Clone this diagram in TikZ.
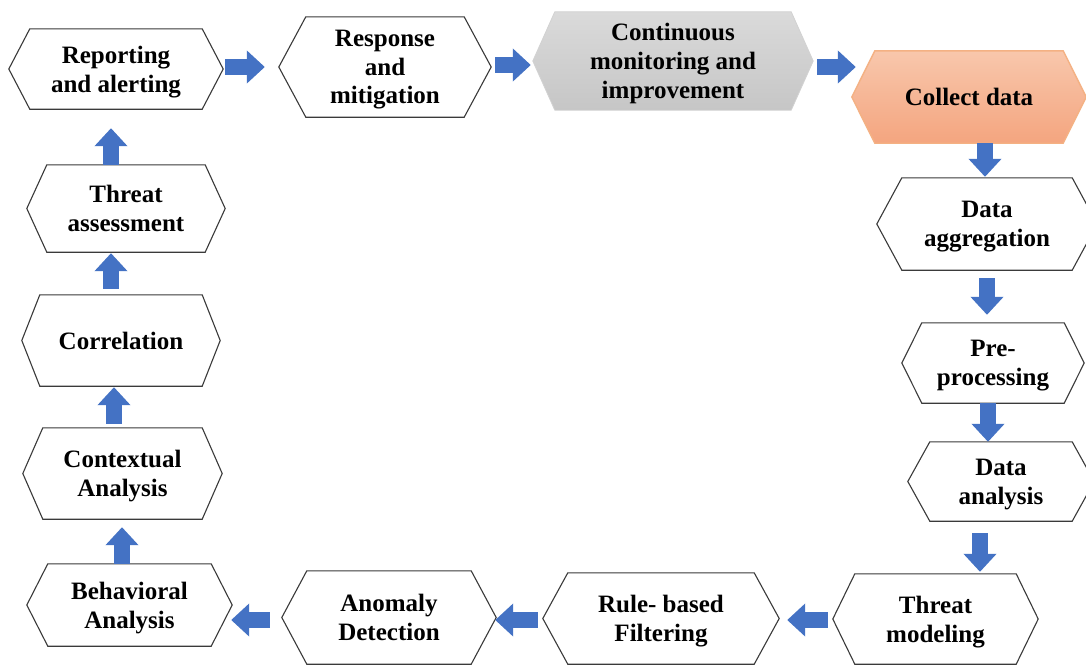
\documentclass[tikz,border=0pt]{standalone}
\usepackage{fontspec}
\setmainfont{Liberation Serif}
\usetikzlibrary{arrows.meta,calc,backgrounds}

\definecolor{flowblue}{HTML}{4472C4}
\definecolor{hexedge}{HTML}{3A3A3A}
\definecolor{greytop}{HTML}{DADADA}
\definecolor{greybot}{HTML}{C6C6C6}
\definecolor{greyedge}{HTML}{D2D2D2}
\definecolor{peachtop}{HTML}{F8C7AC}
\definecolor{peachbot}{HTML}{F4A57F}
\definecolor{peachedge}{HTML}{F4B183}

\tikzset{
  stage/.style={rectangle, inner sep=0pt, align=center, text depth=0pt,
    font=\fontsize{25}{28.75}\selectfont\bfseries},
  hexline/.style={draw=hexedge, line width=1.1pt, fill=white, line join=miter},
  greyhex/.style={draw=greyedge, line width=0.8pt, top color=greytop, bottom color=greybot},
  peachhex/.style={draw=peachedge, line width=1.4pt, top color=peachtop, bottom color=peachbot},
  flow/.style={draw=flowblue, line width=16pt, -{Triangle[length=18pt,width=32pt]}},
}

% hexagonal outline around a named stage node: #2 = node, #3 = inset of the top/bottom edges
\newcommand\hexoutline[3][hexline]{%
  \begin{scope}[on background layer]
    \path[#1] (#2.west) -- ([xshift=#3pt]#2.north west) -- ([xshift=-#3pt]#2.north east)
      -- (#2.east) -- ([xshift=-#3pt]#2.south east) -- ([xshift=#3pt]#2.south west) -- cycle;
  \end{scope}}

\begin{document}
\begin{tikzpicture}[x=1pt,y=-1pt]
  \useasboundingbox (0,0) rectangle (1086,667);
  \begin{scope}[on background layer]
    \fill[white] (0,0) rectangle (1086,667);
  \end{scope}

  % stages
  \node[stage, minimum width=214pt, minimum height=80pt] (rep)  at (116,69)    {Reporting\\and alerting};
  \node[stage, minimum width=212pt, minimum height=100pt] (resp) at (385,67)   {Response\\and\\mitigation};
  \node[stage, minimum width=280pt, minimum height=98pt] (cont) at (673,61)    {Continuous\\monitoring and\\improvement};
  \node[stage, minimum width=234pt, minimum height=92pt] (coll) at (969,97)    {Collect data};
  \node[stage, minimum width=220pt, minimum height=92pt] (agg)  at (987,224)   {Data\\aggregation};
  \node[stage, minimum width=182pt, minimum height=80pt] (pre)  at (993,363)   {Pre-\\processing};
  \node[stage, minimum width=186pt, minimum height=79pt] (ana)  at (1001,481.5) {Data\\analysis};
  \node[stage, minimum width=205pt, minimum height=90pt] (tm)   at (935.5,619) {Threat\\modeling};
  \node[stage, minimum width=236pt, minimum height=91pt] (rule) at (661,618.5) {Rule- based\\Filtering};
  \node[stage, minimum width=214pt, minimum height=93pt] (anom) at (389,617.5) {Anomaly\\Detection};
  \node[stage, minimum width=205pt, minimum height=82pt] (beh)  at (129.5,605) {Behavioral\\Analysis};
  \node[stage, minimum width=199pt, minimum height=91pt] (ctx)  at (122.5,473.5) {Contextual\\Analysis};
  \node[stage, minimum width=198pt, minimum height=91pt] (corr) at (121,340.5) {Correlation};
  \node[stage, minimum width=198pt, minimum height=87pt] (ta)   at (126,208.5) {Threat\\assessment};

  % hexagon outlines
  \hexoutline{rep}{21}
  \hexoutline{resp}{27}
  \hexoutline[greyhex]{cont}{22}
  \hexoutline[peachhex]{coll}{23}
  \hexoutline{agg}{25}
  \hexoutline{pre}{20}
  \hexoutline{ana}{22}
  \hexoutline{tm}{22}
  \hexoutline{rule}{25}
  \hexoutline{anom}{25}
  \hexoutline{beh}{21}
  \hexoutline{ctx}{20}
  \hexoutline{corr}{18}
  \hexoutline{ta}{20}

  % block arrows between the stages
  \coordinate (a1) at ($(rep.east)+(2,-2)$);
  \draw[flow, shorten >=14pt] (a1) -- (a1 -| resp.west);
  \coordinate (a2) at ($(resp.east)+(4,-2)$);
  \draw[flow, shorten >=2pt] (a2) -- (a2 -| cont.west);
  \coordinate (a3) at ($(cont.east)+(4,6)$);
  \draw[flow, shorten >=-4pt] (a3) -- (a3 -| coll.west);
  \coordinate (a4) at ($(coll.south)+(16,0)$);
  \draw[flow, shorten >=1pt] (a4) -- (a4 |- agg.north);
  \coordinate (a5) at ($(agg.south)+(0,8)$);
  \draw[flow, shorten >=8pt] (a5) -- (a5 |- pre.north);
  \coordinate (a6) at ($(pre.south)+(-5,0)$);
  \draw[flow] (a6) -- (a6 |- ana.north);
  \coordinate (a7) at ($(ana.south)+(-21,12)$);
  \draw[flow, shorten >=2pt] (a7) -- (a7 |- tm.north);
  \coordinate (a8) at ($(tm.west)+(-5,1)$);
  \draw[flow, shorten >=8pt] (a8) -- (a8 -| rule.east);
  \coordinate (a9) at ($(rule.west)+(-5,1.5)$);
  \draw[flow, shorten >=-1pt] (a9) -- (a9 -| anom.east);
  \coordinate (a10) at ($(anom.west)+(-12,2.5)$);
  \draw[flow, shorten >=-1pt] (a10) -- (a10 -| beh.east);
  \coordinate (a11) at ($(beh.north)+(-7.5,0)$);
  \draw[flow, shorten >=8pt] (a11) -- (a11 |- ctx.south);
  \coordinate (a12) at ($(ctx.north)+(-8.5,-4)$);
  \draw[flow, shorten >=1pt] (a12) -- (a12 |- corr.south);
  \coordinate (a13) at ($(corr.north)+(-10,-6)$);
  \draw[flow, shorten >=1pt] (a13) -- (a13 |- ta.south);
  \coordinate (a14) at ($(ta.north)+(-15,0)$);
  \draw[flow, shorten >=19pt] (a14) -- (a14 |- rep.south);
\end{tikzpicture}
\end{document}
